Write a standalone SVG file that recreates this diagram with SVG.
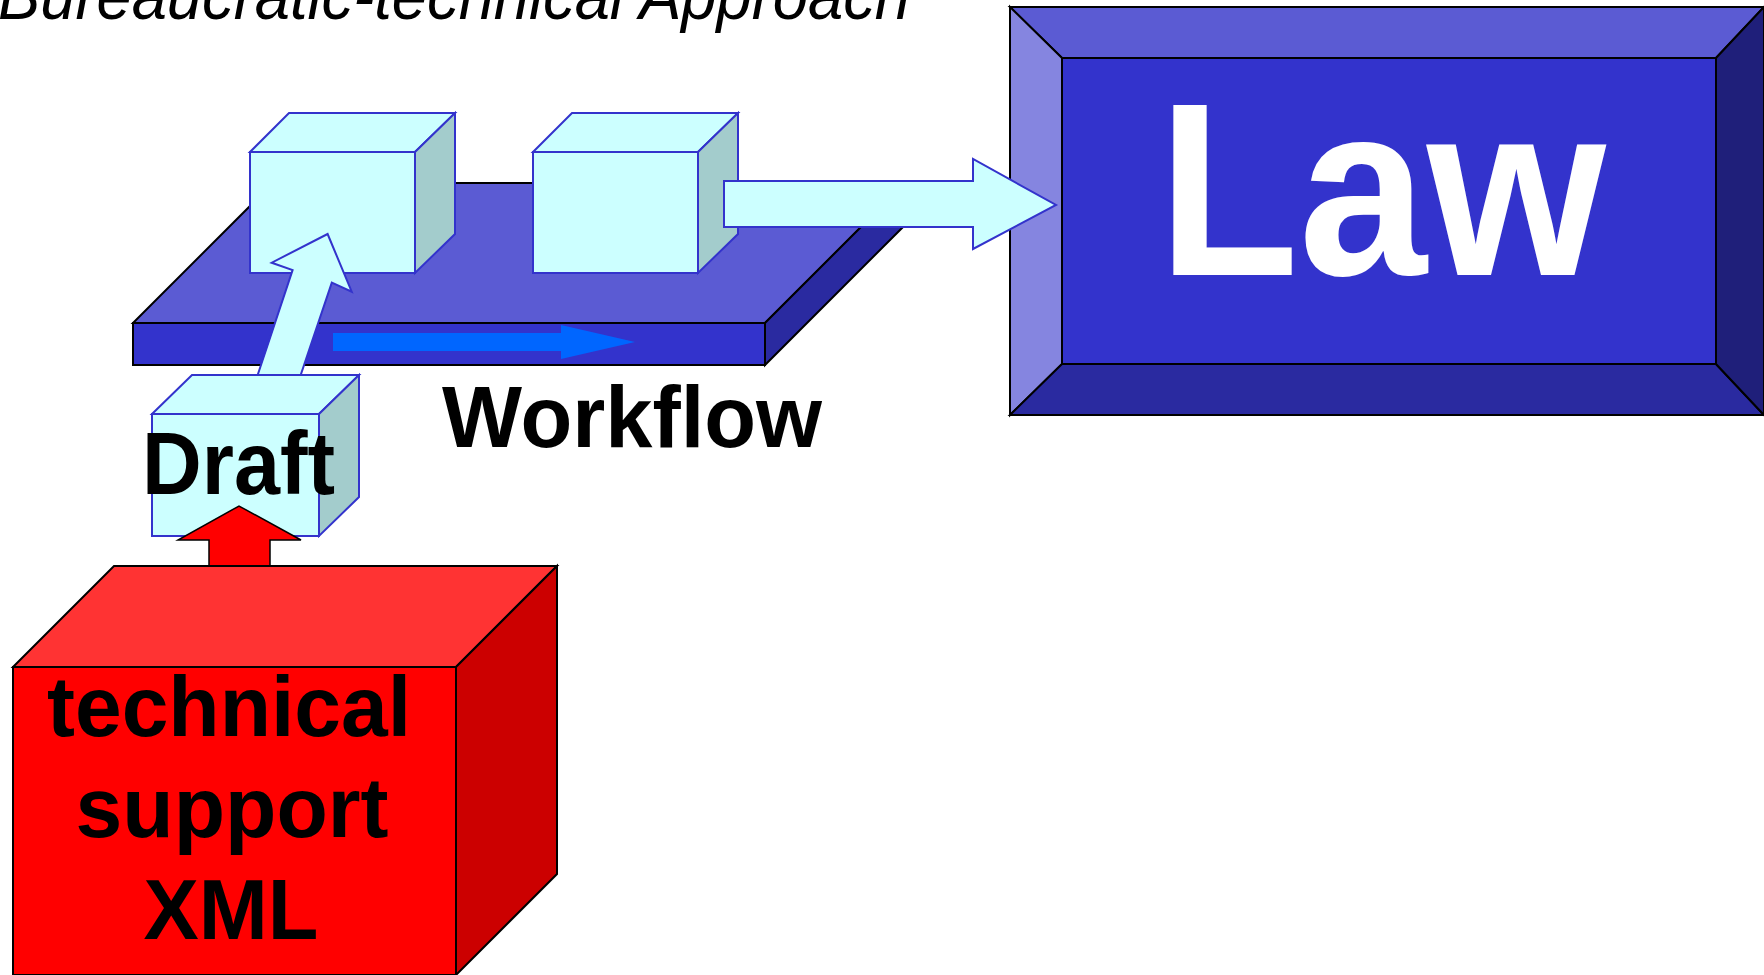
<svg xmlns="http://www.w3.org/2000/svg" width="1764" height="975" viewBox="0 0 1764 975">
<style>
.cyan{fill:#CCFFFF;stroke:#3333CC;stroke-width:2;stroke-linejoin:miter}
.cside{fill:#A3CCCC;stroke:#3333CC;stroke-width:2}
.blk{stroke:#000;stroke-width:2;stroke-linejoin:miter}
.lbl{font-family:"Liberation Sans",Arial,sans-serif;font-weight:bold;fill:#000}
</style>
<rect width="1764" height="975" fill="#fff"/>
<text id="title" x="-2" y="19" font-family="'Liberation Sans',Arial,sans-serif" font-style="italic" font-size="66" textLength="912" lengthAdjust="spacingAndGlyphs" fill="#000">Bureaucratic-technical Approach</text>

<g id="law">
  <polygon class="blk" fill="#5B5BD3" points="1010,7 1764,7 1716,58 1062,58"/>
  <polygon class="blk" fill="#8585E0" points="1010,7 1062,58 1062,364 1010,415"/>
  <polygon class="blk" fill="#2A2AA0" points="1010,415 1062,364 1716,364 1764,415"/>
  <polygon class="blk" fill="#1F1F7A" points="1764,7 1716,58 1716,364 1764,415"/>
  <rect class="blk" fill="#3333CC" x="1062" y="58" width="654" height="306"/>
  <text x="1158" y="275" font-family="'Liberation Sans',Arial,sans-serif" font-weight="bold" font-size="247" textLength="448" lengthAdjust="spacingAndGlyphs" fill="#fff">Law</text>
</g>

<g id="platform">
  <polygon class="blk" fill="#5B5BD3" points="133,323 273,183 905,183 765,323"/>
  <polygon class="blk" fill="#3333CC" points="133,323 765,323 765,365 133,365"/>
  <polygon class="blk" fill="#2A2AA0" points="765,323 905,183 905,225 765,365"/>
</g>

<g id="cube1">
  <polygon class="cyan" points="250,152 289,113 455,113 415,152"/>
  <polygon class="cside" points="415,152 455,113 455,234 415,273"/>
  <rect class="cyan" x="250" y="152" width="165" height="121"/>
</g>
<g id="cube2">
  <polygon class="cyan" points="533,152 572,113 738,113 698,152"/>
  <polygon class="cside" points="698,152 738,113 738,234 698,273"/>
  <rect class="cyan" x="533" y="152" width="165" height="121"/>
</g>

<g id="connectors">
  <polygon id="flow-arrow" fill="#0066FF" points="333,333 561,333 561,325 635,342 561,359 561,351 333,351"/>
  <polygon id="to-law" class="cyan" points="724,181 973,181 973,159 1056,205 973,249 973,227 724,227"/>
  <polygon id="draft-up" class="cyan" points="256,380 292.6,270 271.7,262.7 327.6,234 351.7,291.7 331.8,282.7 299,380"/>
</g>

<g id="draft">
  <polygon class="cyan" points="152,414 192,375 359,375 319,414"/>
  <polygon class="cside" points="319,414 359,375 359,497 319,536"/>
  <rect class="cyan" x="152" y="414" width="167" height="122"/>
  <text class="lbl" x="142" y="494" font-size="89" textLength="193" lengthAdjust="spacingAndGlyphs">Draft</text>
</g>

<g id="red-arrow">
  <polygon fill="#FF0000" stroke="#000" stroke-width="1.5" points="209,567 209,540 178,540 239,506 301,540 270,540 270,567"/>
</g>

<g id="tech">
  <polygon class="blk" fill="#FF3333" points="13,667 114,566 557,566 456,667"/>
  <polygon class="blk" fill="#CC0000" points="456,667 557,566 557,874 456,975"/>
  <rect class="blk" fill="#FF0000" x="13" y="667" width="443" height="308"/>
  <text class="lbl" x="229" y="736" font-size="86" text-anchor="middle" textLength="364" lengthAdjust="spacingAndGlyphs">technical</text>
  <text class="lbl" x="232" y="837" font-size="86" text-anchor="middle" textLength="313" lengthAdjust="spacingAndGlyphs">support</text>
  <text class="lbl" x="231" y="939" font-size="86" text-anchor="middle" textLength="175" lengthAdjust="spacingAndGlyphs">XML</text>
</g>

<text id="workflow" class="lbl" x="442" y="447" font-size="87" textLength="380" lengthAdjust="spacingAndGlyphs">Workflow</text>
</svg>
